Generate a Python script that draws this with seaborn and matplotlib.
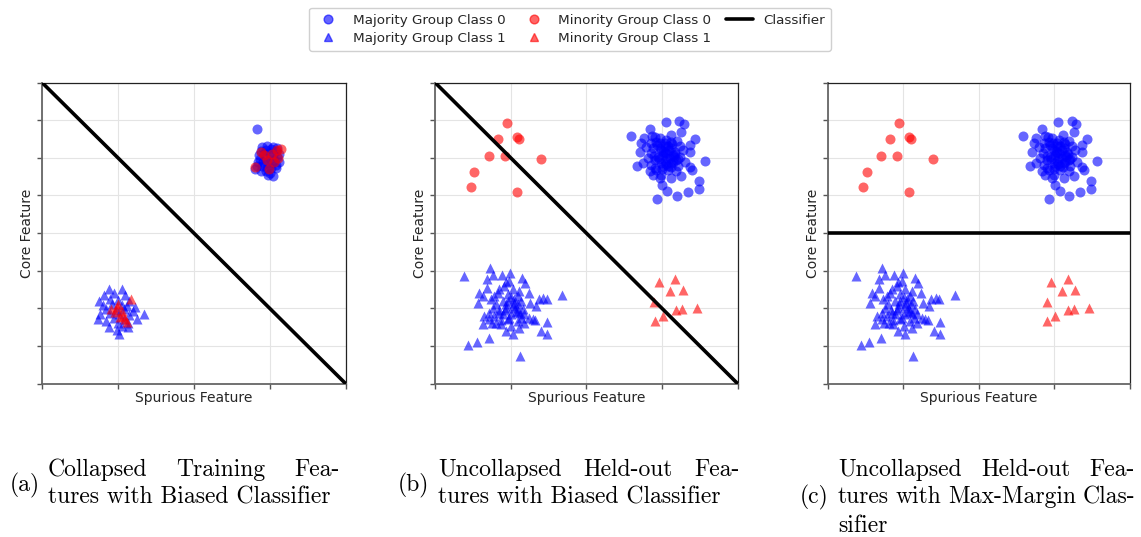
import numpy as np
import pandas as pd
import matplotlib
matplotlib.use("Agg")
import matplotlib.pyplot as plt
from matplotlib.lines import Line2D
import seaborn as sns

# ---------------- data ----------------
# Held-out (uncollapsed) features, panels (b) and (c)
maj0_x = [1.056, 1.232, 1.294, 0.839, 0.587, 1.259, 0.759, 0.874, 0.914, 1.118, 1.436, 1.197,
          1.370, 0.728, 0.861, 1.038, 1.082, 1.237, 0.972, 1.281, 0.711, 1.374, 0.852, 1.038,
          1.171, 0.950, 1.104, 1.237, 1.568, 1.303, 0.755, 0.675, 0.861, 0.994, 1.126, 1.370,
          1.392, 0.839, 0.927, 1.082, 1.193, 0.883, 0.994, 1.126, 1.259, 1.007, 1.489, 1.073,
          1.339, 1.197, 1.489, 0.936, 0.795, 0.905, 1.016, 1.148, 0.817, 1.060, 1.215, 0.972,
          1.060, 0.994, 1.126, 0.927, 1.193, 1.038, 0.883, 1.126, 0.972, 1.082,
          1.010, 1.150, 0.960, 1.100, 1.040, 0.900, 1.180, 1.000, 1.120, 0.940,
          1.070, 1.210, 0.980, 1.140, 0.910, 1.050, 1.160, 1.020]
maj0_y = [2.953, 2.979, 2.900, 2.776, 2.572, 2.687, 2.528, 2.581, 2.564, 2.599, 2.502, 2.458,
          2.351, 2.387, 2.387, 2.387, 2.316, 2.316, 2.254, 2.210, 2.148, 2.148, 2.122, 2.166,
          2.166, 2.033, 1.989, 2.033, 1.901, 1.874, 1.856, 1.786, 1.812, 1.856, 1.856, 1.750,
          1.679, 1.635, 1.679, 1.679, 1.635, 1.529, 1.547, 1.458, 1.503, 1.282, 1.388, 1.105,
          1.096, 0.972, 1.158, 0.910, 2.298, 1.945, 1.768, 2.077, 1.989, 2.475, 1.768, 1.458,
          2.122, 2.210, 2.254, 2.431, 1.945, 1.901, 2.254, 2.431, 2.519, 1.768,
          2.060, 1.900, 1.960, 2.200, 2.300, 2.050, 2.110, 1.700, 1.760, 2.330,
          2.000, 1.980, 2.400, 2.360, 1.720, 1.840, 2.020, 2.160]

maj1_x = [-1.623, -1.274, -1.239, -1.314, -1.115, -1.004, -0.849, -0.805, -1.062, -1.084,
          -1.318, -1.150, -0.973, -0.885, -0.761, -1.415, -1.371, -1.216, -1.040, -1.437,
          -1.261, -1.106, -0.951, -0.863, -0.743, -0.628, -0.566, -0.522, -0.319, -0.664,
          -1.239, -1.062, -0.973, -0.841, -1.349, -1.150, -0.995, -0.818, -0.708, -1.283,
          -1.194, -1.040, -0.907, -1.371, -0.673, -0.518, -1.062, -0.973, -0.885, -0.597,
          -0.518, -1.292, -1.446, -1.561, -0.876, -1.128, -0.752, -1.216, -0.907, -1.040,
          -1.172, -0.907, -1.283, -1.106, -0.995, -0.818, -1.017,
          -1.080, -0.930, -1.200, -0.960, -1.020, -0.860, -1.130, -0.990, -1.250, -0.900,
          -1.060, -0.940, -1.160, -0.880]
maj1_y = [-1.150, -0.920, -1.115, -1.212, -1.115, -1.062, -1.203, -1.318, -1.292, -1.407,
          -1.468, -1.495, -1.495, -1.539, -1.583, -1.583, -1.672, -1.672, -1.628, -1.849,
          -1.760, -1.804, -1.760, -1.804, -1.849, -1.760, -1.734, -1.760, -1.645, -1.937,
          -1.981, -1.981, -1.937, -2.026, -2.202, -2.114, -2.158, -2.158, -2.291, -2.291,
          -2.379, -2.291, -2.335, -2.423, -2.317, -2.361, -2.600, -2.689, -2.512, -2.600,
          -2.689, -2.795, -2.892, -2.972, -3.263, -2.423, -2.247, -2.202, -2.070, -1.804,
          -1.583, -1.672, -2.114, -2.158, -2.468, -2.379, -1.274,
          -2.050, -2.100, -1.880, -1.860, -2.250, -2.250, -2.300, -1.700, -2.400, -1.900,
          -1.900, -2.000, -2.050, -2.120]

min0_x = [-1.053, -1.168, -0.916, -0.890, -1.290, -1.080, -0.600, -1.480, -1.530, -0.920]
min0_y = [2.93, 2.50, 2.56, 2.49, 2.04, 2.04, 1.98, 1.63, 1.21, 1.08]

min1_x = [0.959, 1.18, 1.11, 1.28, 0.90, 1.19, 1.26, 1.46, 1.01, 0.91]
min1_y = [-1.29, -1.21, -1.54, -1.51, -1.84, -2.05, -2.03, -1.99, -2.21, -2.33]

# Collapsed training features, panel (a)
cmaj0_x = [0.834, 0.90, 0.97, 1.04, 1.10, 0.88, 0.95, 1.02, 1.08, 1.12, 0.86, 0.92, 0.99, 1.05,
           1.10, 0.87, 0.94, 1.00, 1.06, 1.12, 0.85, 0.91, 0.97, 1.03, 1.09, 0.83, 0.90, 0.96,
           1.02, 1.08, 0.88, 0.95, 1.01, 1.04, 0.98, 0.81]
cmaj0_y = [2.77, 2.28, 2.30, 2.29, 2.26, 2.18, 2.20, 2.22, 2.17, 2.10, 2.08, 2.10, 2.12, 2.08,
           2.02, 1.98, 2.00, 1.98, 1.95, 1.90, 1.88, 1.90, 1.86, 1.85, 1.82, 1.78, 1.78, 1.74,
           1.72, 1.72, 1.66, 1.64, 1.60, 1.52, 1.55, 1.70]
cmaj1_x = [-1.12, -0.95, -1.05, -1.18, -0.90, -1.25, -1.10, -1.00, -0.85, -0.77, -1.20, -1.08,
           -0.95, -0.88, -1.15, -1.02, -0.92, -0.80, -0.66, -1.23, -1.10, -0.98, -0.85, -1.26,
           -1.05, -0.92, -0.75, -1.15, -1.00, -0.86, -1.12, -0.95, -0.86, -1.01, -0.99]
cmaj1_y = [-1.49, -1.49, -1.60, -1.65, -1.65, -1.80, -1.75, -1.78, -1.80, -1.97, -1.92, -1.90,
           -1.92, -1.95, -2.02, -2.05, -2.02, -2.08, -2.15, -2.15, -2.12, -2.15, -2.18, -2.28,
           -2.25, -2.28, -2.28, -2.35, -2.38, -2.40, -2.50, -2.48, -2.50, -2.59, -2.68]
cmin0_x = [0.891, 1.098, 1.151, 0.966, 1.107, 0.812, 0.997, 1.054, 0.922, 1.032]
cmin0_y = [2.149, 2.194, 2.239, 1.947, 1.989, 1.750, 1.707, 1.883, 2.061, 2.106]
cmin1_x = [-0.825, -0.993, -1.089, -1.036, -0.948, -0.927, -0.882, -0.970, -1.014, -0.904]
cmin1_y = [-1.750, -1.883, -2.016, -2.106, -2.061, -2.194, -2.372, -2.239, -1.973, -2.283]

# Classifiers
clf_x = [-2, 2]
biased_y = [4, -4]
maxmargin_y = [0, 0]

x_ticks = [-2, -1, 0, 1, 2]
y_ticks = [-4, -3, -2, -1, 0, 1, 2, 3, 4]

legend_labels = ["Majority Group Class 0", "Majority Group Class 1",
                 "Minority Group Class 0", "Minority Group Class 1", "Classifier"]
# (label, [(line text, justified?)])
captions = [
    ("(a)", [("Collapsed Training Fea-", True), ("tures with Biased Classifier", False)]),
    ("(b)", [("Uncollapsed Held-out Fea-", True), ("tures with Biased Classifier", False)]),
    ("(c)", [("Uncollapsed Held-out Fea-", True), ("tures with Max-Margin Clas-", True),
             ("sifier", False)]),
]

# ---------------- plotting ----------------
sns.set_theme(style="whitegrid")
plt.rcParams["font.family"] = ["DejaVu Sans"]

W, H = 1141, 537
fig = plt.figure(figsize=(W / 100, H / 100), dpi=100)

BLUE = "#0000ff"
RED = "#ff0000"
ALPHA = 0.6
S_C = 52
S_T = 52

axes_px = [(42, 345.5), (435, 737.5), (827.7, 1129.5)]
top_px, bot_px = 82.5, 383.5

panels = [
    (cmaj0_x, cmaj0_y, cmaj1_x, cmaj1_y, cmin0_x, cmin0_y, cmin1_x, cmin1_y, biased_y),
    (maj0_x, maj0_y, maj1_x, maj1_y, min0_x, min0_y, min1_x, min1_y, biased_y),
    (maj0_x, maj0_y, maj1_x, maj1_y, min0_x, min0_y, min1_x, min1_y, maxmargin_y),
]

for (l, r), data in zip(axes_px, panels):
    ax = fig.add_axes([l / W, 1 - bot_px / H, (r - l) / W, (bot_px - top_px) / H])
    m0x, m0y, m1x, m1y, n0x, n0y, n1x, n1y, cy = data
    sns.scatterplot(x=m0x, y=m0y, ax=ax, color=BLUE, marker="o", s=S_C, alpha=ALPHA,
                    linewidth=0, zorder=3)
    sns.scatterplot(x=m1x, y=m1y, ax=ax, color=BLUE, marker="^", s=S_T, alpha=ALPHA,
                    linewidth=0, zorder=3)
    sns.scatterplot(x=n0x, y=n0y, ax=ax, color=RED, marker="o", s=S_C, alpha=ALPHA,
                    linewidth=0, zorder=4)
    sns.scatterplot(x=n1x, y=n1y, ax=ax, color=RED, marker="^", s=S_T, alpha=ALPHA,
                    linewidth=0, zorder=4)
    sns.lineplot(x=clf_x, y=cy, ax=ax, color="black", linewidth=2.6, sort=False,
                 estimator=None, zorder=5)
    ax.set_xlim(-2, 2)
    ax.set_ylim(-4, 4)
    ax.set_xticks(x_ticks)
    ax.set_yticks(y_ticks)
    ax.set_xticklabels([])
    ax.set_yticklabels([])
    ax.tick_params(axis="both", which="major", length=3.5, width=1, color="#555555",
                   bottom=True, left=True, pad=1)
    ax.grid(True, color="#e4e4e4", linewidth=0.8)
    ax.set_facecolor("white")
    for side in ["top", "right"]:
        ax.spines[side].set_color("#222222")
        ax.spines[side].set_linewidth(0.9)
    for side in ["left", "bottom"]:
        ax.spines[side].set_color("#666666")
        ax.spines[side].set_linewidth(1.3)
    ax.set_xlabel("Spurious Feature", fontsize=10, labelpad=1)
    ax.set_ylabel("Core Feature", fontsize=10, labelpad=1)

# legend
handles = [
    Line2D([], [], linestyle="none", marker="o", color=BLUE, alpha=ALPHA, markersize=6.3),
    Line2D([], [], linestyle="none", marker="^", color=BLUE, alpha=ALPHA, markersize=6.3),
    Line2D([], [], linestyle="none", marker="o", color=RED, alpha=ALPHA, markersize=6.3),
    Line2D([], [], linestyle="none", marker="^", color=RED, alpha=ALPHA, markersize=6.3),
    Line2D([], [], color="black", linewidth=2.6),
]
fig.legend(handles, legend_labels, loc="upper center", bbox_to_anchor=(570 / W, 1 - 1 / H),
           ncol=3, fontsize=9.7, frameon=True, edgecolor="#d0d0d0", facecolor="white",
           framealpha=1, handlelength=2.0, columnspacing=1.1, borderpad=0.45,
           labelspacing=0.35)

# captions (justified like the LaTeX subcaptions)
cap_font = dict(family="cmr10", fontsize=17, color="black")
cap_left = [48, 438, 838]
cap_right = [340, 740, 1135]
label_x = [25, 413, 814]
label_y = [485, 485, 497]
line_y = [470, 497, 526]
renderer = fig.canvas.get_renderer()
for i, (lab, lines) in enumerate(captions):
    fig.text(label_x[i] / W, 1 - label_y[i] / H, lab, ha="center", va="center", **cap_font)
    for j, (line, justify) in enumerate(lines):
        yy = 1 - line_y[j] / H
        if not justify:
            fig.text(cap_left[i] / W, yy, line, ha="left", va="center", **cap_font)
            continue
        words = line.split(" ")
        texts = [fig.text(0, yy, w, ha="left", va="center", **cap_font) for w in words]
        widths = [t.get_window_extent(renderer).width for t in texts]
        total = cap_right[i] - cap_left[i]
        gap = (total - sum(widths)) / (len(words) - 1)
        xpos = cap_left[i]
        for t, w in zip(texts, widths):
            t.set_x(xpos / W)
            xpos += w + gap

fig.savefig("out.png", dpi=100)
